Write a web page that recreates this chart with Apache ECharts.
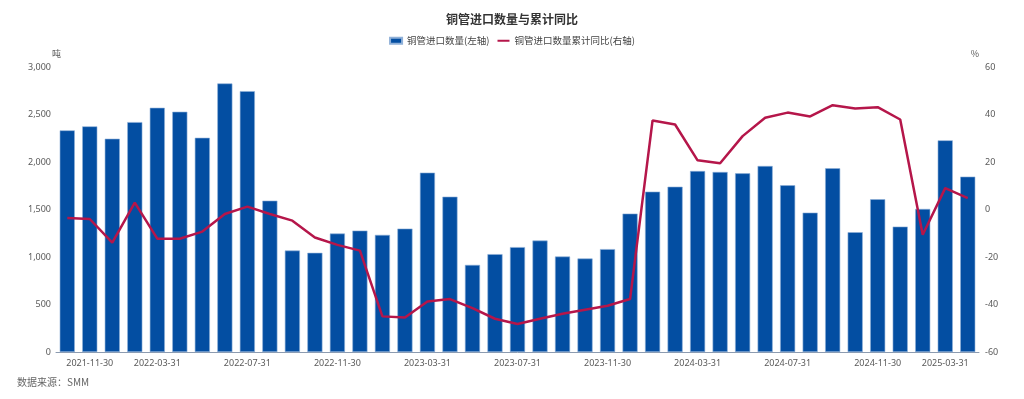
<!DOCTYPE html>
<html>
<head>
<meta charset="utf-8">
<script src="https://cdn.jsdelivr.net/npm/echarts@6/dist/echarts.min.js"></script>
<style>
html,body{margin:0;padding:0;background:#fff;}
#c{width:1024px;height:399px;}
</style>
</head>
<body>
<div id="c"></div>
<script>
const categories = [
  '2021-10-31','2021-11-30','2021-12-31','2022-02-28','2022-03-31','2022-04-30','2022-05-31','2022-06-30',
  '2022-07-31','2022-08-31','2022-09-30','2022-10-31','2022-11-30','2022-12-31','2023-01-31','2023-02-28',
  '2023-03-31','2023-04-30','2023-05-31','2023-06-30','2023-07-31','2023-08-31','2023-09-30','2023-10-31',
  '2023-11-30','2023-12-31','2024-01-31','2024-02-29','2024-03-31','2024-04-30','2024-05-31','2024-06-30',
  '2024-07-31','2024-08-31','2024-09-30','2024-10-31','2024-11-30','2024-12-31','2025-02-28','2025-03-31',
  '2025-04-30'
];
const importVolume = [
  2333,2375,2245,2420,2571,2529,2255,2827,
  2746,1593,1068,1044,1247,1278,1233,1299,
  1888,1635,917,1030,1104,1173,1005,984,
  1083,1457,1688,1740,1905,1895,1881,1958,
  1755,1467,1934,1261,1608,1320,1506,2228,
  1846
];
const cumulativeYoY = [
  -3.6,-4.0,-13.9,2.9,-12.3,-12.3,-9.3,-1.9,
  1.2,-1.9,-4.7,-11.8,-14.9,-17.3,-45.0,-45.5,
  -38.7,-37.7,-41.5,-46.0,-48.2,-46.0,-43.9,-42.2,
  -40.5,-37.7,37.5,35.8,20.7,19.5,30.9,38.6,
  40.8,39.2,43.9,42.5,43.1,37.9,-10.6,9.0,
  4.8
];
const shownTickLabels = ['2021-11-30','2022-03-31','2022-07-31','2022-11-30','2023-03-31','2023-07-31',
  '2023-11-30','2024-03-31','2024-07-31','2024-11-30','2025-03-31'];

const FONT = '"Noto Sans CJK SC", "Noto Sans", sans-serif';
const chart = echarts.init(document.getElementById('c'));
chart.setOption({
  animation: false,
  backgroundColor: '#fff',
  textStyle: { fontFamily: FONT },
  title: {
    text: '铜管进口数量与累计同比',
    left: 'center', top: 8,
    textStyle: { fontSize: 12, fontWeight: 'bold', color: '#333', fontFamily: FONT }
  },
  legend: {
    top: 31, left: 'center',
    itemWidth: 12, itemHeight: 6, itemGap: 7,
    textStyle: { fontSize: 9.5, color: '#444', fontFamily: FONT },
    data: [
      { name: '铜管进口数量(左轴)', icon: 'rect' },
      { name: '铜管进口数量累计同比(右轴)', itemStyle: { opacity: 0 } }
    ]
  },
  grid: { left: 56, right: 45, top: 67, bottom: 47 },
  xAxis: {
    type: 'category',
    data: categories,
    axisLine: { lineStyle: { color: '#8c9bb0', width: 1 } },
    axisTick: { show: false },
    axisLabel: {
      interval: (i, v) => shownTickLabels.indexOf(v) >= 0,
      color: '#595959', fontSize: 9, margin: 7, fontFamily: '"Noto Sans", sans-serif'
    }
  },
  yAxis: [
    {
      type: 'value', min: 0, max: 3000, interval: 500,
      name: '吨', nameGap: 9,
      nameTextStyle: { color: '#595959', fontSize: 9, align: 'left', padding: [0, 0, 0, -4] },
      axisLine: { show: false }, axisTick: { show: false }, splitLine: { show: false },
      axisLabel: {
        color: '#595959', fontSize: 9, margin: 5, fontFamily: '"Noto Sans", sans-serif',
        formatter: v => v.toLocaleString('en-US')
      }
    },
    {
      type: 'value', min: -60, max: 60, interval: 20,
      name: '%', nameGap: 9,
      nameTextStyle: { color: '#595959', fontSize: 9, align: 'right', padding: [0, 0, 0, 0] },
      axisLine: { show: false }, axisTick: { show: false }, splitLine: { show: false },
      axisLabel: { color: '#595959', fontSize: 9, margin: 6, fontFamily: '"Noto Sans", sans-serif' }
    }
  ],
  series: [
    {
      name: '铜管进口数量(左轴)', type: 'bar', yAxisIndex: 0,
      data: importVolume, barCategoryGap: '33%',
      itemStyle: { color: '#034ea2', borderColor: '#8fb0d8', borderWidth: 0.6 }
    },
    {
      name: '铜管进口数量累计同比(右轴)', type: 'line', yAxisIndex: 1,
      data: cumulativeYoY, symbol: 'none',
      lineStyle: { color: '#b5164a', width: 2.5 },
      itemStyle: { color: '#b5164a' }
    }
  ],
  graphic: [
    {
      type: 'text', left: 17, top: 377,
      style: { text: '数据来源：SMM', fill: '#666', fontSize: 10, fontFamily: FONT }
    }
  ]
});
</script>
</body>
</html>
